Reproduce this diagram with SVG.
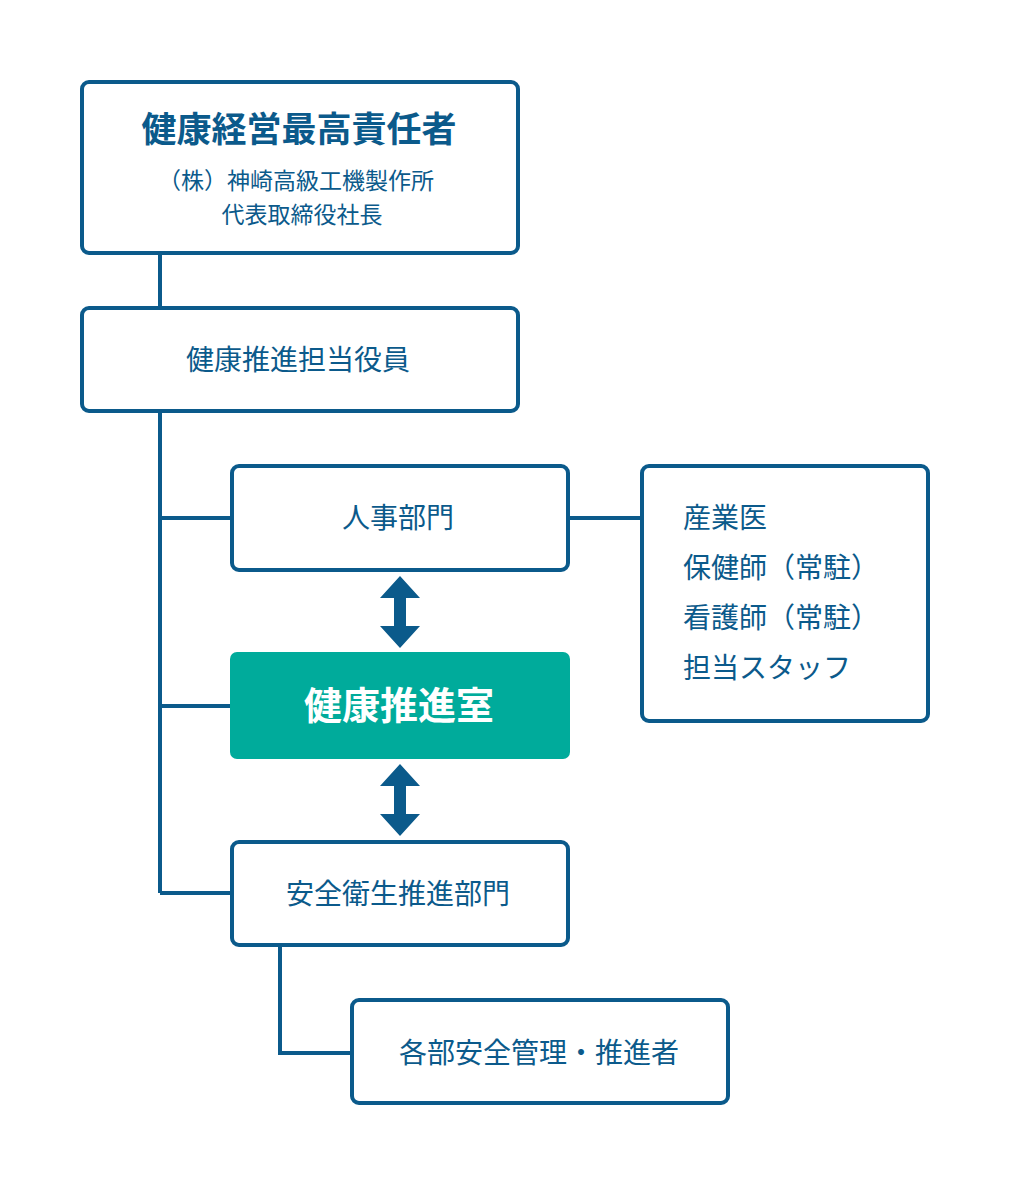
<svg xmlns="http://www.w3.org/2000/svg" width="1010" height="1180" viewBox="0 0 1010 1180">
<style>
.b{fill:#fff;stroke:#0b5a8b;stroke-width:4}
.t{font-family:"Noto Sans CJK JP","Noto Sans",sans-serif;fill:#0b5a8b;font-size:28px}
.c{stroke:#0b5a8b;stroke-width:4;fill:none}
</style>
<rect width="1010" height="1180" fill="#fff"/>
<g id="connectors">
<path class="c" d="M160 253V308M160 411V893M160 518H232M160 706H230M160 893H232M568 518H642M280 945V1053H352"/>
<path fill="#0b5a8b" d="M400 576L420 598H406V626H420L400 648L380 626H394V598H380Z"/>
<path fill="#0b5a8b" d="M400 764L420 786H406V814H420L400 836L380 814H394V786H380Z"/>
</g>
<g id="ceo"><rect class="b" x="82" y="82" width="436" height="171" rx="7"/>
<text class="t" x="299" y="142" text-anchor="middle" style="font-size:35px;font-weight:bold">健康経営最高責任者</text>
<text class="t" x="296" y="189" text-anchor="middle" style="font-size:23px">（株）神崎高級工機製作所</text>
<text class="t" x="302" y="223" text-anchor="middle" style="font-size:23px">代表取締役社長</text></g>
<g id="officer"><rect class="b" x="82" y="308" width="436" height="103" rx="7"/>
<text class="t" x="298" y="370" text-anchor="middle">健康推進担当役員</text></g>
<g id="hr"><rect class="b" x="232" y="466" width="336" height="104" rx="7"/>
<text class="t" x="398" y="528" text-anchor="middle">人事部門</text></g>
<g id="room"><rect x="230" y="652" width="340" height="107" rx="7" fill="#00ab9b"/>
<text class="t" x="399" y="719" text-anchor="middle" style="font-size:38px;font-weight:bold;fill:#fff">健康推進室</text></g>
<g id="safety"><rect class="b" x="232" y="842" width="336" height="103" rx="7"/>
<text class="t" x="398" y="904" text-anchor="middle">安全衛生推進部門</text></g>
<g id="each"><rect class="b" x="352" y="1000" width="376" height="103" rx="7"/>
<text class="t" x="539" y="1063" text-anchor="middle">各部安全管理・推進者</text></g>
<g id="staff"><rect class="b" x="642" y="466" width="286" height="255" rx="7"/>
<text class="t" x="683" y="528">産業医</text>
<text class="t" x="683" y="578">保健師（常駐）</text>
<text class="t" x="683" y="628">看護師（常駐）</text>
<text class="t" x="683" y="678">担当スタッフ</text></g>
</svg>
